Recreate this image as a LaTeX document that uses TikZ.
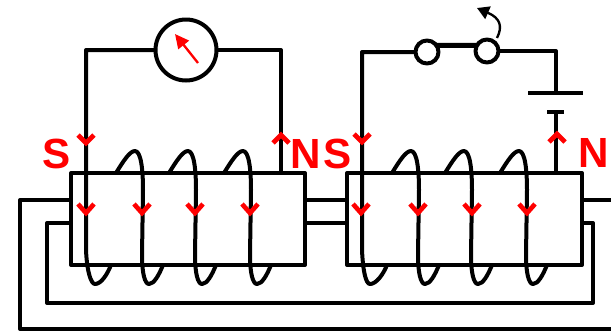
\documentclass[tikz,border=0pt]{standalone}
\usepackage{fontspec}
\setmainfont{Liberation Sans}
\usetikzlibrary{arrows.meta}
\tikzset{
    wire/.style = {line width=0.12cm, black, line join=round},
    core/.style = {rectangle, wire, draw=black, inner sep=0pt, outer sep=0pt, minimum height=2.76cm},
    ring/.style = {circle, wire, draw=black, fill=white, inner sep=0pt, outer sep=0pt},
    pole/.style = {text=red, inner sep=0pt, font=\fontsize{36}{36}\selectfont\bfseries},
    chev/.style = {line width=0.14cm, red},
}
\begin{document}
\begin{tikzpicture}[x=0.03cm, y=-0.03cm]
\useasboundingbox (0,0) rectangle (611,333);
\node[core, minimum width=7.02cm] at (188,219) (coreL) {};
\node[core, minimum width=7.05cm] at (464.5,219) (coreR) {};
\node[ring, minimum size=1.83cm] at (186,50) (meter) {};
\node[ring, minimum size=0.69cm] at (427,52) (swa) {};
\node[ring, minimum size=0.69cm] at (487,51) (swb) {};
\node[pole] at (57,154) (sL) {S};
\node[pole] at (306,154) (nL) {N};
\node[pole] at (338,154) (sR) {S};
\node[pole] at (594,153) (nR) {N};
\coordinate (plateA) at (556,93);
\coordinate (plateB) at (556,112);
\coordinate (edgeT) at (611,200);
\coordinate (edgeB) at (611,329);
%
\draw[wire] (meter.east) -| (coreL.north -| 281,0);
\draw[wire] (swb.east) -| (plateA);
\draw[wire] (plateB) -- (coreR.north -| 556,0);
\draw[wire, line width=0.15cm] (swa.35) -- (swb.150);
\draw[wire] (528,93) -- (583,93);
\draw[wire] (547,112) -- (564,112);
%
\draw[wire] (coreL.east |- 0,200) -- (coreR.west |- 0,200);
\draw[wire] (coreL.east |- 0,223) -- (coreR.west |- 0,223);
\draw[wire] (coreR.east |- 0,200) -- (edgeT);
\draw[wire] (coreL.west |- 0,200) -- (20,200) -- (20,329) -- (edgeB);
\draw[wire] (coreL.west |- 0,223) -- (47,223) -- (47,303) -- (593,303) -- (593,223) -- (coreR.east |- 0,223);
%
\draw[wire] (meter.west) -| (86,250) .. controls (87,272) and (91,284) .. (95,284) .. controls (101,284) and (107,275) .. (111,265);
\draw[wire] (swa.west) -| (362,250) .. controls (363,272) and (366,284) .. (370,284) .. controls (376,284) and (383,275) .. (387,265);
\foreach \x in {116,169,224,392,445,500} {
    \draw[wire] (\x,173) .. controls (\x+8,160) and (\x+14,151) .. (\x+19,151)
        .. controls (\x+25,151) and (\x+27,170) .. (\x+27,190) -- (\x+26,255)
        .. controls (\x+26,274) and (\x+29,284) .. (\x+33,284)
        .. controls (\x+38,284) and (\x+43,275) .. (\x+47,265);
}
%
\foreach \x in {86,142,195,250,361,418,472,527} {
    \draw[chev] (\x-8,204) -- (\x,213) -- (\x+8,204);
}
\draw[chev] (78,135) -- (86,143) -- (94,135);
\draw[chev] (354,134) -- (362,142) -- (370,134);
\draw[chev] (273,143) -- (281,135) -- (289,143);
\draw[chev] (549,142) -- (557,134) -- (565,142);
%
\draw[red, line width=0.07cm, -{Triangle[length=0.42cm,width=0.4cm]}] (198,63) -- (175,34);
\draw[black, line width=0.07cm, -{Triangle[length=0.36cm,width=0.4cm]}] (497,38) .. controls (503,26) and (500,18) .. (477,8);
\end{tikzpicture}
\end{document}
